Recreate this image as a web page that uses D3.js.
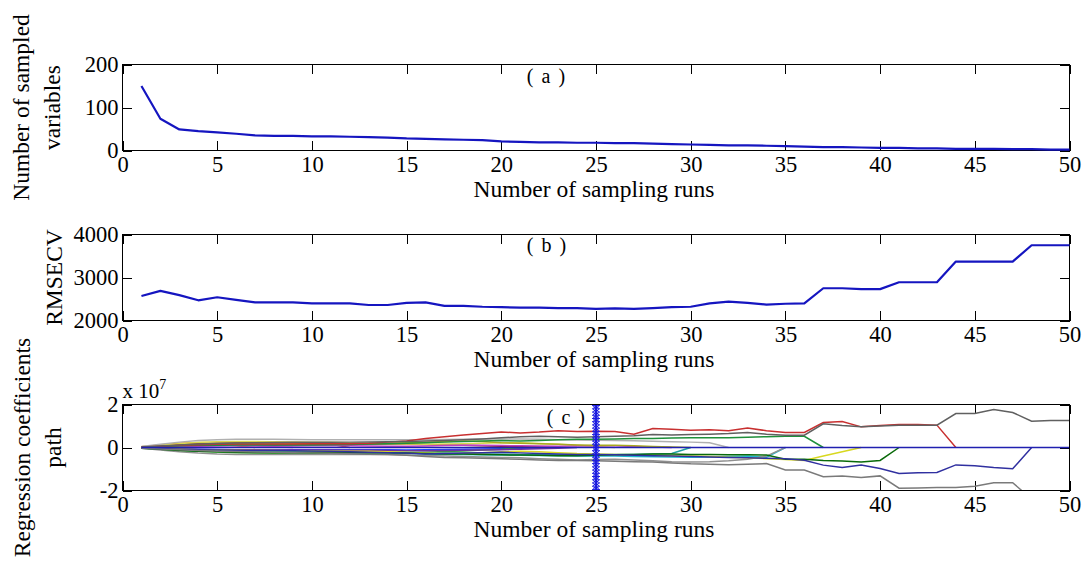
<!DOCTYPE html>
<html>
<head>
<meta charset="utf-8">
<script src="https://cdn.jsdelivr.net/npm/d3@7"></script>
<style>
  body { margin: 0; background: #fff; }
  svg text { font-family: "Liberation Serif", "Times New Roman", serif; fill: #000; }
</style>
</head>
<body>
<svg id="chart" width="1083" height="568"></svg>
<script>
// shared x axis: number of sampling runs
const xTicks = [0, 5, 10, 15, 20, 25, 30, 35, 40, 45, 50];

// (a) number of sampled variables per run
const sampledVars = [150, 74, 49, 45, 42, 39, 35, 34, 34, 33, 33, 32, 31, 30, 28, 27, 26, 25, 24, 21,
    20, 19, 19, 18, 18, 17, 17, 16, 15, 14, 13, 12, 12, 11, 10, 9, 8, 8, 7, 6,
    6, 5, 5, 4, 4, 4, 3, 3, 2, 2];
const varTicks = [0, 100, 200];

// (b) RMSECV per run
const rmsecv = [2570, 2690, 2590, 2470, 2540, 2480, 2420, 2420, 2420, 2400, 2400, 2400, 2360, 2360, 2410, 2420, 2340, 2340, 2320, 2310,
    2300, 2300, 2290, 2290, 2270, 2280, 2270, 2290, 2310, 2320, 2400, 2440, 2410, 2370, 2390, 2400, 2750, 2750, 2730, 2730,
    2890, 2890, 2890, 3370, 3370, 3370, 3370, 3750, 3750, 3750];
const rmseTicks = [2000, 3000, 4000];

// (c) regression coefficient paths (x 10^7), one array per variable, from run 1 until it is dropped
const coefOrange = [0.03, 0.12, 0.20, 0.22, 0.15, 0.08, 0];
const coefPink = [0.01, 0.05, 0.09, 0.12, 0.13, 0.11, 0.07, 0.03, 0];
const coefBrown = [0.02, 0.08, 0.14, 0.18, 0.21, 0.22, 0.22, 0.22, 0.21, 0.19, 0.15, 0];
const coefDarkRed = [0.00, 0.03, 0.06, 0.09, 0.11, 0.12, 0.12, 0.11, 0.12, 0.13, 0.14, 0.15, 0.16, 0.17, 0.16, 0.14, 0.12, 0.10, 0.08, 0.06,
    0.04, 0.02, 0];
const coefBlue2 = [0.00, -0.03, -0.06, -0.08, -0.09, -0.10, -0.10, -0.11, -0.11, -0.11, -0.10, -0.10, -0.10, -0.11, -0.12, -0.10, -0.09, -0.08, -0.07, -0.06,
    -0.04, -0.02, 0];
const coefGreen2 = [-0.01, -0.06, -0.12, -0.17, -0.21, -0.24, -0.26, -0.27, -0.27, -0.27, -0.27, -0.27, -0.27, -0.26, -0.24, -0.22, -0.19, -0.16, -0.12, -0.08, 0];
const coefPurple = [-0.01, -0.04, -0.07, -0.09, -0.10, -0.11, -0.11, -0.12, -0.12, -0.12, -0.12, -0.13, -0.13, -0.14, -0.15, -0.15, -0.14, -0.13, -0.12, -0.10,
    -0.08, -0.06, -0.04, 0];
const coefYellow2 = [0.03, 0.10, 0.18, 0.24, 0.27, 0.28, 0.28, 0.27, 0.26, 0.25, 0.24, 0.22, 0.20, 0.18, 0.16, 0.15, 0.16, 0.18, 0.20, 0.22,
    0.22, 0.19, 0.15, 0.10, 0.05, 0];
const coefMagenta = [0.00, 0.02, 0.04, 0.06, 0.07, 0.08, 0.08, 0.07, 0.07, 0.08, 0.08, 0.08, 0.07, 0.06, 0.06, 0.07, 0.09, 0.11, 0.10, 0.09,
    0.08, 0.07, 0.06, 0.07, 0.08, 0.08, 0.05, 0.02, 0];
const coefOlive = [0.01, 0.05, 0.09, 0.12, 0.14, 0.15, 0.16, 0.16, 0.16, 0.17, 0.17, 0.18, 0.19, 0.20, 0.22, 0.25, 0.28, 0.30, 0.28, 0.22,
    0.20, 0.18, 0.15, 0.12, 0.10, 0.10, 0.08, 0.05, 0.02, 0];
const coefTeal = [-0.02, -0.07, -0.12, -0.16, -0.18, -0.19, -0.20, -0.20, -0.20, -0.20, -0.20, -0.21, -0.21, -0.21, -0.22, -0.24, -0.26, -0.28, -0.30, -0.31,
    -0.32, -0.33, -0.34, -0.35, -0.34, -0.33, -0.32, -0.30, -0.28, 0];
const coefLightGray = [0.05, 0.15, 0.25, 0.32, 0.36, 0.38, 0.38, 0.38, 0.37, 0.36, 0.36, 0.36, 0.36, 0.36, 0.36, 0.36, 0.37, 0.38, 0.39, 0.40,
    0.40, 0.38, 0.36, 0.35, 0.34, 0.33, 0.31, 0.29, 0.27, 0.25, 0.22, 0];
const coefCyan = [-0.02, -0.06, -0.10, -0.13, -0.15, -0.16, -0.17, -0.18, -0.19, -0.20, -0.22, -0.24, -0.25, -0.27, -0.28, -0.30, -0.32, -0.33, -0.34, -0.35,
    -0.36, -0.37, -0.38, -0.39, -0.40, -0.40, -0.42, -0.43, -0.44, -0.45, -0.44, -0.42, -0.40, -0.45, 0];
const coefGray2 = [-0.04, -0.12, -0.20, -0.26, -0.30, -0.32, -0.33, -0.33, -0.33, -0.33, -0.32, -0.32, -0.32, -0.33, -0.35, -0.37, -0.40, -0.42, -0.44, -0.46,
    -0.48, -0.52, -0.55, -0.58, -0.56, -0.55, -0.58, -0.62, -0.66, -0.68, -0.66, -0.62, -0.55, -0.40, 0];
const coefGreen = [0.01, 0.05, 0.08, 0.10, 0.11, 0.12, 0.12, 0.12, 0.12, 0.12, 0.13, 0.14, 0.16, 0.18, 0.20, 0.22, 0.25, 0.28, 0.30, 0.32,
    0.30, 0.33, 0.36, 0.38, 0.38, 0.40, 0.42, 0.42, 0.44, 0.45, 0.45, 0.45, 0.48, 0.50, 0.52, 0.52, 0];
const coefYellow = [-0.01, -0.04, -0.07, -0.10, -0.12, -0.13, -0.14, -0.14, -0.15, -0.15, -0.16, -0.17, -0.18, -0.20, -0.22, -0.25, -0.28, -0.27, -0.24, -0.20,
    -0.18, -0.20, -0.24, -0.28, -0.30, -0.32, -0.34, -0.36, -0.38, -0.40, -0.42, -0.45, -0.48, -0.52, -0.56, -0.60, -0.40, -0.20, 0];
const coefDarkGreen = [-0.03, -0.08, -0.14, -0.18, -0.20, -0.22, -0.23, -0.23, -0.23, -0.23, -0.23, -0.23, -0.24, -0.25, -0.26, -0.28, -0.30, -0.30, -0.32, -0.34,
    -0.35, -0.36, -0.38, -0.38, -0.36, -0.34, -0.32, -0.30, -0.30, -0.32, -0.33, -0.34, -0.34, -0.35, -0.55, -0.55, -0.60, -0.63, -0.67, -0.60, 0];
const coefNavy = [-0.02, -0.05, -0.08, -0.10, -0.12, -0.13, -0.14, -0.14, -0.15, -0.16, -0.18, -0.20, -0.22, -0.24, -0.26, -0.30, -0.28, -0.26, -0.24, -0.22,
    -0.25, -0.28, -0.30, -0.32, -0.33, -0.34, -0.36, -0.38, -0.40, -0.42, -0.44, -0.46, -0.48, -0.50, -0.52, -0.59, -0.82, -0.93, -0.82, -0.98,
    -1.21, -1.18, -1.16, -0.81, -0.85, -0.93, -0.99, 0];
const coefGrayLow = [-0.03, -0.07, -0.11, -0.14, -0.17, -0.19, -0.21, -0.22, -0.24, -0.25, -0.27, -0.29, -0.31, -0.33, -0.36, -0.42, -0.46, -0.48, -0.50, -0.52,
    -0.55, -0.58, -0.60, -0.60, -0.62, -0.64, -0.66, -0.68, -0.72, -0.76, -0.78, -0.80, -0.78, -0.75, -1.05, -1.05, -1.36, -1.33, -1.40, -1.32,
    -1.89, -1.88, -1.86, -1.86, -1.80, -1.64, -1.64, -2.40, -2.40, -2.40];
const coefRed = [0.02, 0.06, 0.10, 0.13, 0.15, 0.16, 0.16, 0.16, 0.16, 0.17, 0.17, 0.18, 0.20, 0.25, 0.30, 0.42, 0.50, 0.58, 0.65, 0.72,
    0.68, 0.72, 0.78, 0.74, 0.75, 0.74, 0.62, 0.88, 0.85, 0.80, 0.82, 0.78, 0.91, 0.78, 0.70, 0.70, 1.16, 1.21, 0.96, 1.02,
    1.07, 1.07, 1.04, 0];
const coefGrayTop = [0.02, 0.07, 0.12, 0.16, 0.19, 0.21, 0.22, 0.23, 0.24, 0.24, 0.24, 0.25, 0.26, 0.27, 0.28, 0.30, 0.33, 0.36, 0.40, 0.45,
    0.50, 0.52, 0.50, 0.48, 0.50, 0.52, 0.55, 0.60, 0.58, 0.60, 0.62, 0.65, 0.70, 0.62, 0.57, 0.57, 1.10, 1.02, 0.96, 1.00,
    1.03, 1.03, 1.04, 1.58, 1.58, 1.77, 1.63, 1.22, 1.26, 1.26];
// dropped variables sit on zero
const coefZero = [0, 0, 0, 0, 0, 0, 0, 0, 0, 0, 0, 0, 0, 0, 0, 0, 0, 0, 0, 0, 0, 0, 0, 0, 0,
    0, 0, 0, 0, 0, 0, 0, 0, 0, 0, 0, 0, 0, 0, 0, 0, 0, 0, 0, 0, 0, 0, 0, 0, 0];
const coefTicks = [-2, 0, 2];

// run with the lowest RMSECV, marked by the vertical asterisk line
const optimalRun = 25;
const optimalMarks = [-1.95, -1.8, -1.65, -1.5, -1.35, -1.2, -1.05, -0.9, -0.75, -0.6, -0.45, -0.3, -0.15, 0,
    0.15, 0.3, 0.45, 0.6, 0.75, 0.9, 1.05, 1.2, 1.35, 1.5, 1.65, 1.8, 1.95];

const coefPaths = [coefOrange, coefPink, coefBrown, coefDarkRed, coefBlue2, coefGreen2, coefPurple, coefYellow2, coefMagenta,
    coefOlive, coefTeal, coefLightGray, coefCyan, coefGray2, coefGreen, coefYellow, coefDarkGreen, coefNavy, coefGrayLow,
    coefRed, coefGrayTop, coefZero];
const coefColors = ["#e07b20", "#e377c2", "#a0522d", "#8b1a1a", "#2040ff", "#33aa33", "#7030a0", "#d8d850", "#c040c0",
    "#a8a820", "#20a0a0", "#b0b0b0", "#20b8d0", "#909090", "#1f8f3a", "#d8d820", "#0a6a0a", "#3030a0", "#7a7a7a",
    "#c83030", "#606060", "#2020b0"];

const serif = "'Liberation Serif', 'Times New Roman', serif";
const svg = d3.select("#chart");
const lineBlue = "#1515c0";

let x = d3.scaleLinear().domain([0, 50]).range([122.5, 1069.5]);

function drawPanel(top, bottom, yDomain, yTicks) {
    let y = d3.scaleLinear().domain(yDomain).range([bottom, top]);
    let g = svg.append("g");

    // bottom axis with labels, ticks pointing in
    g.append("g")
        .attr("transform", "translate(0," + bottom + ")")
        .call(d3.axisBottom(x).tickValues(xTicks).tickSizeInner(-9.5).tickSizeOuter(0).tickPadding(6).tickFormat(d => d));
    g.append("g")
        .attr("transform", "translate(0," + top + ")")
        .call(d3.axisTop(x).tickValues(xTicks).tickSizeInner(-9.5).tickSizeOuter(0).tickFormat(""));
    g.append("g")
        .attr("transform", "translate(" + x.range()[0] + ",0)")
        .call(d3.axisLeft(y).tickValues(yTicks).tickSizeInner(-9.5).tickSizeOuter(0).tickPadding(4).tickFormat(d => String(d)));
    g.append("g")
        .attr("transform", "translate(" + x.range()[1] + ",0)")
        .call(d3.axisRight(y).tickValues(yTicks).tickSizeInner(-9.5).tickSizeOuter(0).tickFormat(""));

    g.selectAll(".domain").remove();
    g.selectAll("g").attr("font-family", serif);
    g.selectAll(".tick line").attr("stroke", "#000").attr("shape-rendering", "crispEdges");
    g.selectAll(".tick text").style("font-family", serif).style("font-size", "22.5px").attr("fill", "#000");

    g.append("rect")
        .attr("x", x.range()[0]).attr("y", top)
        .attr("width", x.range()[1] - x.range()[0]).attr("height", bottom - top)
        .attr("fill", "none").attr("stroke", "#000").attr("shape-rendering", "crispEdges");

    g.append("text")
        .attr("x", 594).attr("y", bottom + 46.5)
        .attr("text-anchor", "middle")
        .style("font-family", serif)
        .style("font-size", "23.5px")
        .text("Number of sampling runs");
    return { g: g, y: y };
}

function yLabel(lines, cy, baselines) {
    lines.forEach((t, i) => {
        svg.append("text")
            .attr("transform", "translate(" + baselines[i] + "," + cy + ") rotate(-90)")
            .attr("text-anchor", "middle")
            .style("font-family", serif)
            .style("font-size", "23.5px")
            .text(t);
    });
}

function panelTag(g, label, px, py) {
    g.append("text")
        .attr("x", px).attr("y", py)
        .attr("dominant-baseline", "central")
        .style("font-family", serif)
        .style("font-size", "20px")
        .style("letter-spacing", "8px")
        .text("(" + label + ")");
}

let line = d3.line().x((d, i) => x(i + 1));

// ---- (a)
let pa = drawPanel(64.5, 150.5, [0, 200], varTicks);
pa.g.append("path")
    .datum(sampledVars)
    .attr("fill", "none").attr("stroke", lineBlue).attr("stroke-width", 2.2)
    .attr("stroke-linejoin", "round")
    .attr("d", line.y(d => pa.y(d)));
panelTag(pa.g, "a", x(21.35), pa.y(174));
yLabel(["Number of sampled", "variables"], 107.5, [29, 59.5]);

// ---- (b)
let pb = drawPanel(234.5, 320.5, [2000, 4000], rmseTicks);
pb.g.append("path")
    .datum(rmsecv)
    .attr("fill", "none").attr("stroke", lineBlue).attr("stroke-width", 2.2)
    .attr("stroke-linejoin", "round")
    .attr("d", line.y(d => pb.y(d)));
panelTag(pb.g, "b", x(21.35), pb.y(3745));
yLabel(["RMSECV"], 277.5, [61.5]);

// ---- (c)
let pc = drawPanel(404.5, 490.5, [-2, 2], coefTicks);
svg.append("clipPath").attr("id", "clipC")
    .append("rect")
    .attr("x", x.range()[0]).attr("y", 404.5)
    .attr("width", x.range()[1] - x.range()[0]).attr("height", 86);

let coefG = pc.g.insert("g", "rect").attr("clip-path", "url(#clipC)");
coefPaths.forEach((vals, k) => {
    coefG.append("path")
        .datum(vals)
        .attr("fill", "none")
        .attr("stroke", coefColors[k])
        .attr("stroke-width", 1.5)
        .attr("d", line.y(d => pc.y(d)));
});

// optimal run marker
coefG.append("line")
    .attr("x1", x(optimalRun)).attr("x2", x(optimalRun))
    .attr("y1", pc.y(-2)).attr("y2", pc.y(2))
    .attr("stroke", "#1a1ae0").attr("stroke-width", 1.5);

function asterisk(r) {
    let q = r * 0.7071;
    return "M" + (-r) + ",0H" + r + "M0," + (-r) + "V" + r +
        "M" + (-q) + "," + (-q) + "L" + q + "," + q + "M" + (-q) + "," + q + "L" + q + "," + (-q);
}
coefG.selectAll(".mark")
    .data(optimalMarks)
    .enter()
    .append("path")
    .attr("class", "mark")
    .attr("transform", d => "translate(" + x(optimalRun) + "," + pc.y(d) + ")")
    .attr("d", asterisk(4))
    .attr("fill", "none").attr("stroke", "#1a1ae0").attr("stroke-width", 1);

panelTag(pc.g, "c", x(22.4), pc.y(1.44));

// exponent note
let expo = pc.g.append("text").attr("x", x(0)).attr("y", 398).style("font-family", serif).style("font-size", "21px");
expo.append("tspan").text("x 10");
expo.append("tspan").attr("dy", -9).style("font-size", "14px").text("7");

yLabel(["Regression coefficients", "path"], 447.5, [30, 60.5]);
</script>
</body>
</html>
